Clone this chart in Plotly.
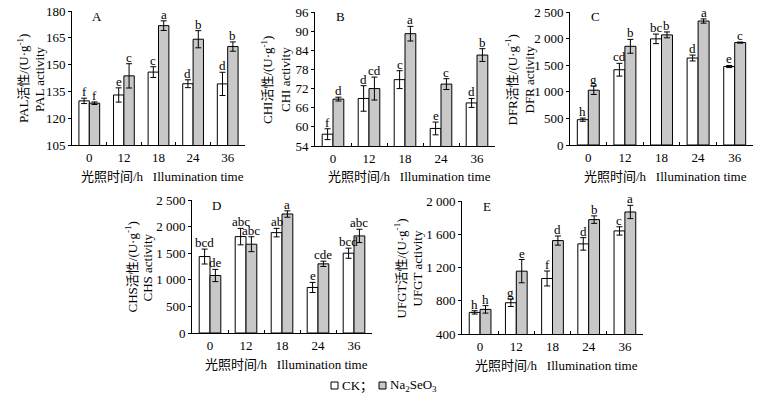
import plotly.graph_objects as go

W, H = 759, 399

categories = ["0", "12", "18", "24", "36"]

# Panel A: PAL
A_ck = [129.7, 133.0, 145.8, 139.3, 139.2]
A_ck_err = [1.5, 4.0, 3.0, 2.2, 6.5]
A_na = [128.4, 143.7, 171.8, 164.2, 160.1]
A_na_err = [0.7, 6.8, 2.7, 4.8, 2.6]
A_ck_let = ["f", "e", "c", "d", "d"]
A_na_let = ["f", "c", "a", "b", "b"]

# Panel B: CHI
B_ck = [57.7, 68.9, 74.8, 59.5, 67.5]
B_ck_err = [1.7, 4.0, 2.8, 2.0, 1.4]
B_na = [68.7, 72.0, 89.2, 73.4, 82.5]
B_na_err = [0.6, 3.6, 2.3, 1.7, 2.0]
B_ck_let = ["f", "d", "c", "e", "d"]
B_na_let = ["d", "cd", "a", "c", "b"]

# Panel C: DFR
C_ck = [476, 1415, 1995, 1635, 1475]
C_ck_err = [30, 120, 90, 55, 20]
C_na = [1030, 1855, 2070, 2330, 1925]
C_na_err = [80, 130, 55, 40, 10]
C_ck_let = ["h", "cd", "bc", "d", "e"]
C_na_let = ["g", "b", "b", "a", "c"]

# Panel D: CHS
D_ck = [1437, 1812, 1887, 856, 1500]
D_ck_err = [140, 155, 80, 95, 95]
D_na = [1081, 1669, 2237, 1300, 1825]
D_na_err = [115, 140, 60, 50, 125]
D_ck_let = ["bcd", "abc", "ab", "e", "bcd"]
D_na_let = ["de", "abc", "a", "cde", "abc"]

# Panel E: UFGT
E_ck = [660, 776, 1068, 1484, 1640]
E_ck_err = [20, 45, 90, 75, 50]
E_na = [696, 1156, 1524, 1776, 1868]
E_na_err = [45, 140, 55, 45, 80]
E_ck_let = ["h", "g", "f", "d", "c"]
E_na_let = ["h", "e", "d", "b", "a"]

ticks_A = [105, 120, 135, 150, 165, 180]
ticks_B = [54, 60, 66, 72, 78, 84, 90, 96]
ticks_CD = [0, 500, 1000, 1500, 2000, 2500]
ticks_CD_lbl = ["0", "500", "1 000", "1 500", "2 000", "2 500"]
ticks_E = [400, 800, 1200, 1600, 2000]
ticks_E_lbl = ["400", "800", "1 200", "1 600", "2 000"]

panels = [
    dict(lab="A", name="PAL", ck=A_ck, cke=A_ck_err, na=A_na, nae=A_na_err, ckl=A_ck_let, nal=A_na_let,
         rng=[105, 180], tv=ticks_A, tt=[str(t) for t in ticks_A],
         box=(72, 245, 11, 145), t1=47, t2=33),
    dict(lab="B", name="CHI", ck=B_ck, cke=B_ck_err, na=B_na, nae=B_na_err, ckl=B_ck_let, nal=B_na_let,
         rng=[54, 96], tv=ticks_B, tt=[str(t) for t in ticks_B],
         box=(315, 495, 12, 146), t1=46, t2=30),
    dict(lab="C", name="DFR", ck=C_ck, cke=C_ck_err, na=C_na, nae=C_na_err, ckl=C_ck_let, nal=C_na_let,
         rng=[0, 2500], tv=ticks_CD, tt=ticks_CD_lbl,
         box=(570, 753, 12, 145), t1=57, t2=41),
    dict(lab="D", name="CHS", ck=D_ck, cke=D_ck_err, na=D_na, nae=D_na_err, ckl=D_ck_let, nal=D_na_let,
         rng=[0, 2500], tv=ticks_CD, tt=ticks_CD_lbl,
         box=(192, 372, 200, 333), t1=59, t2=45),
    dict(lab="E", name="UFGT", ck=E_ck, cke=E_ck_err, na=E_na, nae=E_na_err, ckl=E_ck_let, nal=E_na_let,
         rng=[400, 2000], tv=ticks_E, tt=ticks_E_lbl,
         box=(462, 643, 201, 334), t1=60, t2=45),
]

FONT = "Liberation Serif, Times New Roman, Noto Sans CJK SC, serif"
FS = 13
GREY = "#c8c8c8"
fig = go.Figure()
annotations = []
shapes = []
layout = {}

for i, p in enumerate(panels):
    n = i + 1
    sfx = "" if n == 1 else str(n)
    xa, ya = "x" + sfx, "y" + sfx
    x0, x1, y0, y1 = p["box"]
    err_style = dict(type="data", color="black", thickness=1, width=3)
    fig.add_trace(go.Bar(x=categories, y=p["ck"], xaxis=xa, yaxis=ya, showlegend=False,
                         marker=dict(color="white", line=dict(color="black", width=1)),
                         error_y=dict(array=p["cke"], **err_style)))
    fig.add_trace(go.Bar(x=categories, y=p["na"], xaxis=xa, yaxis=ya, showlegend=False,
                         marker=dict(color=GREY, line=dict(color="black", width=1)),
                         error_y=dict(array=p["nae"], **err_style)))
    layout["xaxis" + sfx] = dict(domain=[x0 / W, x1 / W], anchor=ya, type="category",
                                 range=[-0.5, 4.5], automargin=False,
                                 showline=True, linecolor="black", linewidth=1,
                                 ticks="inside", tickson="boundaries", ticklen=3, tickcolor="black",
                                 showgrid=False, zeroline=False,
                                 tickfont=dict(family=FONT, size=FS, color="black"))
    layout["yaxis" + sfx] = dict(domain=[1 - y1 / H, 1 - y0 / H], anchor=xa, range=p["rng"],
                                 automargin=False,
                                 tickvals=p["tv"], ticktext=p["tt"],
                                 showline=True, linecolor="black", linewidth=1,
                                 ticks="outside", ticklen=3, tickcolor="black",
                                 showgrid=False, zeroline=False,
                                 tickfont=dict(family=FONT, size=FS, color="black"))
    # significance letters
    for j in range(len(categories)):
        for off, vals, errs, lets in ((-0.15, p["ck"], p["cke"], p["ckl"]),
                                      (0.15, p["na"], p["nae"], p["nal"])):
            annotations.append(dict(x=j + off, y=vals[j] + errs[j], xref=xa, yref=ya,
                                    text=lets[j], showarrow=False, yanchor="bottom",
                                    yshift=-3, font=dict(family=FONT, size=FS, color="black")))
    # panel label
    annotations.append(dict(x=(x0 + 25) / W, y=1 - (y0 + 5) / H, xref="paper", yref="paper",
                            text=p["lab"], showarrow=False, xanchor="center", yanchor="middle",
                            font=dict(family=FONT, size=FS, color="black")))
    # y titles (two lines)
    yc = 1 - ((y0 + y1) / 2 + 1) / H
    annotations.append(dict(x=(x0 - p["t1"] - 2) / W, y=yc, xref="paper", yref="paper",
                            text=p["name"] + "活性/(U·g<sup>-1</sup>)", textangle=-90, showarrow=False,
                            xanchor="center", yanchor="middle",
                            font=dict(family=FONT, size=FS, color="black")))
    annotations.append(dict(x=(x0 - p["t2"]) / W, y=yc, xref="paper", yref="paper",
                            text=p["name"] + " activity", textangle=-90, showarrow=False,
                            xanchor="center", yanchor="middle",
                            font=dict(family=FONT, size=FS, color="black")))
    # x title
    annotations.append(dict(x=(x0 + x1) / 2 / W + 4 / W, y=1 - (y1 + 31) / H, xref="paper", yref="paper",
                            text="光照时间/h   Illumination time", showarrow=False,
                            xanchor="center", yanchor="middle",
                            font=dict(family=FONT, size=FS, color="black")))

# legend
shapes.append(dict(type="rect", xref="paper", yref="paper", x0=331 / W, x1=338 / W,
                   y0=1 - 389 / H, y1=1 - 382 / H, line=dict(color="black", width=1), fillcolor="white"))
shapes.append(dict(type="rect", xref="paper", yref="paper", x0=379 / W, x1=386 / W,
                   y0=1 - 389 / H, y1=1 - 382 / H, line=dict(color="black", width=1), fillcolor=GREY))
annotations.append(dict(x=340 / W, y=1 - 385.5 / H, xref="paper", yref="paper", text="CK；",
                        showarrow=False, xanchor="left", yanchor="middle",
                        font=dict(family=FONT, size=FS, color="black")))
annotations.append(dict(x=388 / W, y=1 - 385.5 / H, xref="paper", yref="paper",
                        text="Na<sub>2</sub>SeO<sub>3</sub>",
                        showarrow=False, xanchor="left", yanchor="middle",
                        font=dict(family=FONT, size=FS, color="black")))

fig.update_layout(width=W, height=H, margin=dict(l=0, r=0, t=0, b=0, autoexpand=False),
                  paper_bgcolor="white", plot_bgcolor="white",
                  barmode="group", bargap=0.4, bargroupgap=0,
                  annotations=annotations, shapes=shapes, showlegend=False,
                  font=dict(family=FONT, size=FS, color="black"), **layout)

fig.write_html("out.html", config={"displayModeBar": False},
               post_script="document.body.style.margin='0';document.body.style.padding='0';")
